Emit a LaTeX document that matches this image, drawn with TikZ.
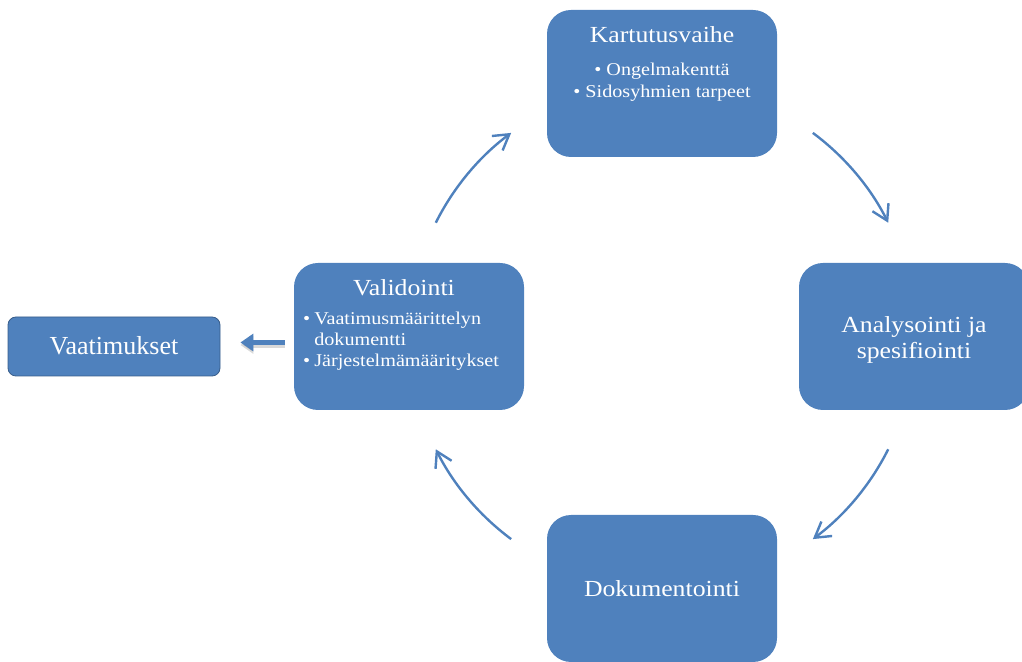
\documentclass[tikz,border=0pt]{standalone}
\usepackage{fontspec}
\setmainfont{Liberation Serif}
\newfontfamily\camfont[FakeStretch=1.12]{Liberation Serif}
\usetikzlibrary{arrows.meta}
\definecolor{boxblue}{HTML}{4F81BD}
\definecolor{boxedge}{HTML}{385D8A}
\tikzset{
  bigbox/.style={fill=boxblue, draw=none, rounded corners=24pt, minimum width=230pt, minimum height=147pt, inner sep=0pt},
  smallbox/.style={fill=boxblue, draw=boxedge, line width=0.8pt, rounded corners=8pt, minimum width=212pt, minimum height=59pt, inner sep=0pt},
  titletext/.style={text=white, font=\camfont\fontsize{23}{26}\selectfont, inner sep=0pt, align=center},
  bullettext/.style={text=white, font=\camfont\fontsize{18}{22}\selectfont, inner sep=0pt, align=center},
  cycarrow/.style={draw=boxblue, line width=2.4pt, -{Straight Barb[length=15pt,width=18pt]}},
  thickarrow/.style={draw=boxblue, line width=5.5pt, -{Triangle[length=13pt,width=17pt]}},
}
\begin{document}
\begin{tikzpicture}[x=1pt,y=1pt]
\useasboundingbox (0,0) rectangle (1022,661);
\clip (0,0) rectangle (1022,661);
% boxes
\node[bigbox] (K) at (662,577.5) {};
\node[bigbox] (A) at (914,324.5) {};
\node[bigbox] (D) at (662,72.5) {};
\node[bigbox] (V) at (409,324.5) {};
\node[smallbox] (R) at (114,314.5) {};
% texts
\node[titletext] (Kt) at (662,626) {Kartutusvaihe};
\node[bullettext] (Kb) at (662,579) {\textbullet\ Ongelmakenttä\\\textbullet\ Sidosyhmien tarpeet};
\node[titletext] (At) at (914,321) {Analysointi ja\\spesifiointi};
\node[titletext] (Dt) at (662,72) {Dokumentointi};
\node[titletext] (Vt) at (404,373) {Validointi};
\node[text=white, font=\camfont\fontsize{18}{21}\selectfont, inner sep=0pt, anchor=west] (Vb) at (303,320)
  {\begin{tabular}{@{}l@{\hspace{4pt}}l@{}}\textbullet & Vaatimusmäärittelyn\\ & dokumentti\\ \textbullet & Järjestelmämääritykset\end{tabular}};
\node[text=white, font=\fontsize{26}{30}\selectfont, inner sep=0pt] (Rt) at (114,315) {Vaatimukset};
% cycle arrows
\coordinate (ctr) at (662,325);
\coordinate (a1) at ([shift={(53.4:253)}]ctr);
\coordinate (a2) at ([shift={(-26.6:253)}]ctr);
\coordinate (a3) at ([shift={(-126.6:253)}]ctr);
\coordinate (a4) at ([shift={(153.4:253)}]ctr);
\draw[cycarrow] (a1) arc[start angle=53.4, end angle=26.6, radius=253pt];
\draw[cycarrow] (a2) arc[start angle=-26.6, end angle=-53.4, radius=253pt];
\draw[cycarrow] (a3) arc[start angle=-126.6, end angle=-153.4, radius=253pt];
\draw[cycarrow] (a4) arc[start angle=153.4, end angle=126.6, radius=253pt];
% validation to requirements
\draw[thickarrow, draw=gray, fill=gray, opacity=0.3, transform canvas={yshift=-2.5pt}] ([xshift=-9pt,yshift=-6pt]V.west) -- ([xshift=20pt,yshift=4pt]R.east);
\draw[thickarrow] ([xshift=-9pt,yshift=-6pt]V.west) -- ([xshift=20pt,yshift=4pt]R.east);
\end{tikzpicture}
\end{document}
